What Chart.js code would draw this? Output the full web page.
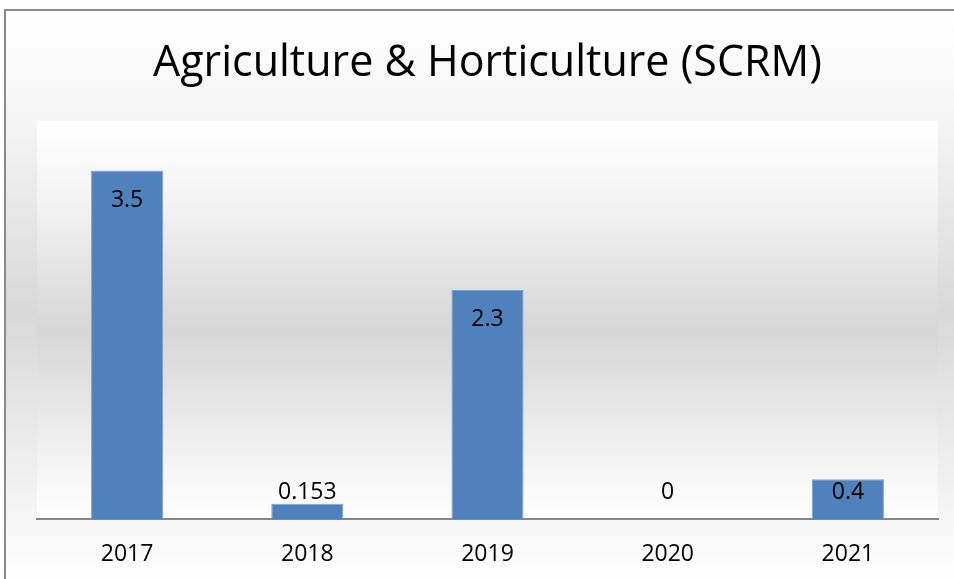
<!DOCTYPE html>
<html>
<head>
<meta charset="utf-8">
<script src="https://cdn.jsdelivr.net/npm/chart.js@4/dist/chart.umd.min.js"></script>
<style>
	html, body { margin: 0; padding: 0; background: #fff; overflow: hidden; }
	#frame {
		position: absolute; left: 4px; top: 9px; width: 960px; height: 580px;
		border-left: 2px solid #8a8a8a; border-top: 2px solid #8a8a8a;
		background: linear-gradient(#ffffff 0%, #f4f4f4 20%, #d8d8d8 52%, #f4f4f4 85%, #ffffff 100%);
	}
	#wrap { position: absolute; left: 0; top: 0; width: 954px; height: 579px; }
</style>
</head>
<body>
<div id="frame"></div>
<div id="wrap"><canvas id="barchart"></canvas></div>
<script>
var years = ['2017', '2018', '2019', '2020', '2021'];
var values = [3.5, 0.153, 2.3, 0, 0.4];
var valueLabels = ['3.5', '0.153', '2.3', '0', '0.4'];

var fontFamily = '"Liberation Sans Narrow", "Open Sans", sans-serif';

// shaded plot area behind the bars
var plotBackground = {
	id: 'plotBackground',
	beforeDraw: function(chart) {
		var ctx = chart.ctx, a = chart.chartArea;
		var g = ctx.createLinearGradient(0, a.top, 0, a.bottom);
		g.addColorStop(0, '#ffffff');
		g.addColorStop(0.2, '#f3f3f3');
		g.addColorStop(0.53, '#d6d6d6');
		g.addColorStop(0.85, '#f3f3f3');
		g.addColorStop(1, '#ffffff');
		ctx.save();
		ctx.fillStyle = g;
		ctx.fillRect(a.left, a.top, a.right - a.left, a.bottom - a.top);
		ctx.restore();
	}
};

// value labels, inside the top of each bar, kept clear of the axis
var barLabels = {
	id: 'barLabels',
	afterDatasetsDraw: function(chart) {
		var ctx = chart.ctx;
		var base = chart.scales.y.getPixelForValue(0);
		ctx.save();
		ctx.font = '23px ' + fontFamily;
		ctx.fillStyle = '#000';
		ctx.textAlign = 'center';
		ctx.textBaseline = 'middle';
		chart.getDatasetMeta(0).data.forEach(function(bar, i) {
			var y = Math.min(bar.y + 30, base - 27);
			ctx.fillText(valueLabels[i], bar.x, y);
		});
		ctx.restore();
	}
};

new Chart(document.getElementById("barchart"), {
	type: 'bar',
	data: {
		labels: years,
		datasets: [{
			data: values,
			backgroundColor: "#4F81BD",
			borderColor: "#7DA1CF",
			borderWidth: 1,
			barPercentage: 0.4,
			categoryPercentage: 1.0
		}]
	},
	options: {
		responsive: true,
		maintainAspectRatio: false,
		animation: false,
		layout: {
			padding: { left: 37, right: 16, top: 0, bottom: 0 }
		},
		plugins: {
			legend: { display: false },
			tooltip: { enabled: false },
			title: {
				display: true,
				text: 'Agriculture & Horticulture (SCRM)',
				color: '#000',
				font: { family: fontFamily, size: 43, weight: 'normal', lineHeight: 1.2 },
				padding: { top: 38, bottom: 31 }
			}
		},
		scales: {
			x: {
				grid: { display: false, drawTicks: false, tickLength: 0 },
				border: { display: true, color: '#868686', width: 2 },
				ticks: {
					color: '#000',
					padding: 22,
					font: { family: fontFamily, size: 23 }
				},
				afterFit: function(scale) { scale.height = 60; }
			},
			y: {
				display: false,
				min: 0,
				max: 4
			}
		}
	},
	plugins: [plotBackground, barLabels]
});
</script>
</body>
</html>
